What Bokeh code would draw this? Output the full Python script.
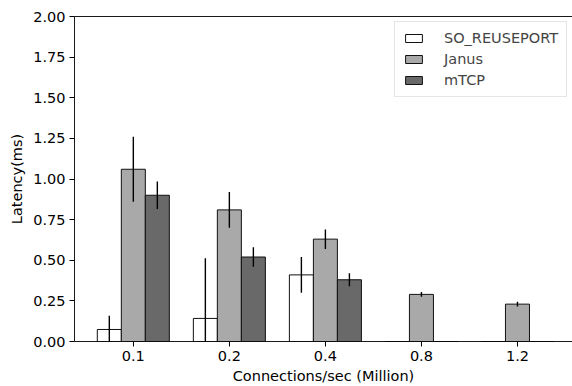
from bokeh.plotting import figure
from bokeh.models import FixedTicker, LinearAxis, Range1d, Legend, LegendItem, ColumnDataSource, PrintfTickFormatter
from bokeh.embed import file_html
from bokeh.resources import INLINE

categories = ["0.1", "0.2", "0.4", "0.8", "1.2"]
series = ["SO_REUSEPORT", "Janus", "mTCP"]
so_vals = [0.074, 0.142, 0.41, 0.0, 0.0]
so_err = [0.085, 0.37, 0.11, 0.0, 0.0]
janus_vals = [1.06, 0.81, 0.63, 0.29, 0.23]
janus_err = [0.20, 0.11, 0.06, 0.015, 0.015]
mtcp_vals = [0.90, 0.52, 0.38, 0.0, 0.0]
mtcp_err = [0.085, 0.06, 0.04, 0.0, 0.0]
y_ticks = [0, 0.25, 0.5, 0.75, 1.0, 1.25, 1.5, 1.75, 2.0]

colors = ["#ffffff", "#a9a9a9", "#696969"]
width = 0.25
offsets = [-width, 0.0, width]
FONT = "DejaVu Sans"
FS = "14.5px"

p = figure(width=572, height=386, output_backend="svg", toolbar_location=None,
           x_range=Range1d(-0.6125, 4.573), y_range=Range1d(0, 2.0))
p.min_border_left = 74
p.min_border_right = 0
p.min_border_top = 16
p.min_border_bottom = 45
p.outline_line_color = None
p.grid.visible = False
p.background_fill_color = "white"
p.border_fill_color = "white"

items = []
for name, vals, errs, col, off in zip(series, [so_vals, janus_vals, mtcp_vals],
                                      [so_err, janus_err, mtcp_err], colors, offsets):
    xs = [i + off for i in range(len(categories))]
    src = ColumnDataSource(dict(x=xs, top=vals,
                                lo=[v - e for v, e in zip(vals, errs)],
                                hi=[v + e for v, e in zip(vals, errs)]))
    r = p.vbar(x="x", top="top", width=width, source=src, fill_color=col,
               line_color="#111111", line_width=1.0)
    items.append(LegendItem(label=name, renderers=[r]))
    p.segment(x0="x", y0="lo", x1="x", y1="hi", source=src, line_color="black", line_width=1.4)

xa = p.xaxis[0]
xa.ticker = FixedTicker(ticks=list(range(len(categories))))
xa.major_label_overrides = {i: c for i, c in enumerate(categories)}
ya = p.yaxis[0]
ya.ticker = FixedTicker(ticks=y_ticks)
ya.formatter = PrintfTickFormatter(format="%.2f")
for ax in (xa, ya):
    ax.axis_line_color = "black"
    ax.axis_line_width = 0.9
    ax.major_tick_line_color = "black"
    ax.major_tick_out = 5
    ax.major_tick_in = 0
    ax.minor_tick_line_color = None
    ax.major_label_text_font = FONT
    ax.major_label_text_font_size = FS
    ax.major_label_text_color = "black"
    ax.axis_label_text_font = FONT
    ax.axis_label_text_font_size = FS
    ax.axis_label_text_font_style = "normal"
    ax.axis_label_text_color = "black"
    ax.major_label_standoff = 4
xa.axis_label = "Connections/sec (Million)"
ya.axis_label = "Latency(ms)"
xa.axis_label_standoff = 4
ya.axis_label_standoff = 5

top_ax = LinearAxis(ticker=FixedTicker(ticks=[]), axis_line_color="black", axis_line_width=0.9,
                    major_tick_line_color=None, minor_tick_line_color=None,
                    major_label_text_font_size="0px")
p.add_layout(top_ax, "above")

legend = Legend(items=items, location=(320, 244), label_text_font=FONT,
                label_text_font_size=FS, glyph_width=21, glyph_height=10,
                spacing=5, padding=8, label_standoff=20,
                border_line_color="#cccccc", border_line_width=1,
                background_fill_alpha=0.8)
p.add_layout(legend)

open("out.html", "w").write(file_html(p, INLINE))
